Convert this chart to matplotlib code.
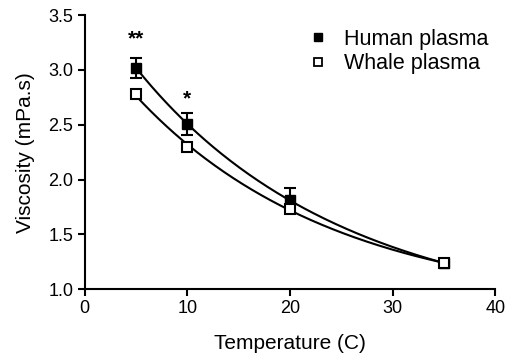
import numpy as np
import matplotlib
matplotlib.use("Agg")
import matplotlib.pyplot as plt
from matplotlib.lines import Line2D

plt.rcParams["font.family"] = ["Liberation Sans", "DejaVu Sans"]

temps = [5, 10, 20, 35]
human_visc = [3.02, 2.51, 1.81, 1.24]
human_err = [0.09, 0.10, 0.11, 0.02]
whale_visc = [2.78, 2.30, 1.73, 1.24]
whale_err = [0.02, 0.03, 0.03, 0.02]
sig_x = [5, 10]
sig_y = [3.28, 2.74]
sig_labels = ["**", "*"]

fig = plt.figure(figsize=(5.06, 3.59), dpi=100)
ax = fig.add_axes([0.167, 0.194, 0.812, 0.764])

# smooth fitted curves (quadratic in log-viscosity)
xs = np.linspace(5, 35, 200)
for vals in [human_visc, whale_visc]:
    coef = np.polyfit(temps, np.log(vals), 2)
    ax.plot(xs, np.exp(np.polyval(coef, xs)), color="black", lw=1.5, zorder=2)

ax.errorbar(temps, human_visc, yerr=human_err, fmt="s", color="black", ms=7,
            mfc="black", mec="black", ecolor="black", elinewidth=1.5, capsize=4,
            capthick=1.5, zorder=3)
ax.errorbar(temps, whale_visc, yerr=whale_err, fmt="s", color="black", ms=7,
            mfc="white", mec="black", mew=1.5, ecolor="black", elinewidth=1.5,
            capsize=4, capthick=1.5, zorder=4)

for x, y, s in zip(sig_x, sig_y, sig_labels):
    ax.text(x, y, s, ha="center", va="center", fontsize=15, fontweight="bold")

ax.set_xlim(0, 40)
ax.set_ylim(1.0, 3.5)
ax.set_xticks([0, 10, 20, 30, 40])
ax.set_yticks([1.0, 1.5, 2.0, 2.5, 3.0, 3.5])
ax.set_yticklabels(["1.0", "1.5", "2.0", "2.5", "3.0", "3.5"])
ax.tick_params(direction="out", length=5, width=1.5, labelsize=13, pad=3)
for side in ["top", "right"]:
    ax.spines[side].set_visible(False)
for side in ["left", "bottom"]:
    ax.spines[side].set_linewidth(1.5)

ax.set_xlabel("Temperature (C)", fontsize=15, labelpad=12)
ax.set_ylabel("Viscosity (mPa.s)", fontsize=15, labelpad=10)

handles = [
    Line2D([], [], ls="none", marker="s", ms=5.5, mfc="black", mec="black"),
    Line2D([], [], ls="none", marker="s", ms=5.5, mfc="white", mec="black", mew=1.3),
]
ax.legend(handles, ["Human plasma", "Whale plasma"], loc="upper right",
          bbox_to_anchor=(1.03, 1.02), frameon=False, fontsize=15.5,
          handlelength=1.2, handletextpad=0.6, labelspacing=0.15)

fig.savefig("out.png", dpi=100)
